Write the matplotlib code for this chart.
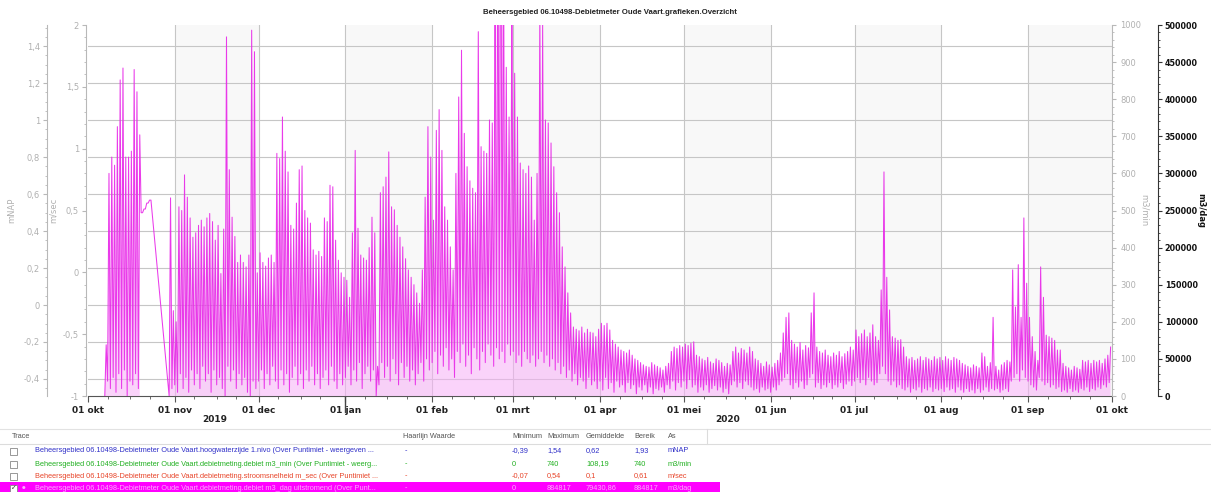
import numpy as np
import pandas as pd
import matplotlib
matplotlib.use('Agg')
import matplotlib.pyplot as plt
import matplotlib.dates as mdates
from matplotlib.ticker import FuncFormatter, MultipleLocator, FixedLocator
from matplotlib.patches import Rectangle
from matplotlib.lines import Line2D

nan = np.nan

## debiet m3_dag uitstromend: per dag de top en het dal (x 1000 m3/dag), 01 okt 2019 t/m 30 sep 2020
piek_okt = [nan, nan, nan, nan, nan, nan, 69, 300, 322, 311, 363, 426, 442, 322, 322, 330,
            440, 410, 352, 247, 252, 260, 264, nan, nan, nan, nan, nan, nan, 267, 115]
piek_nov = [100, 255, 250, 298, 268, 240, 214, 220, 230, 237, 228, 240, 246, 235, 210,
            230, 165, 225, 484, 305, 241, 215, 180, 190, 180, 174, 190, 493, 464, 166]
piek_dec = [193, 180, 175, 186, 190, 180, 327, 320, 376, 330, 302, 230, 225, 260, 305, 310,
            250, 240, 233, 197, 190, 195, 188, 240, 235, 284, 282, 210, 183, 166, 160]
piek_jan = [156, 133, 220, 331, 226, 190, 186, 183, 200, 241, 220, 40, 274, 282, 295, 329,
            255, 251, 230, 214, 201, 185, 170, 160, 150, 139, 125, 170, 268, 363, 322]
piek_feb = [237, 358, 386, 331, 255, 237, 201, 170, 300, 403, 466, 354, 309, 290, 280,
            274, 491, 336, 330, 327, 372, 368, 600, 700, 884, 650, 443, 376, 560]
piek_mrt = [435, 376, 314, 305, 300, 310, 295, 237, 300, 520, 500, 372, 368, 341, 309, 274,
            247, 201, 174, 139, 112, 93, 90, 88, 93, 85, 90, 86, 85, 80, 90]
piek_apr = [98, 95, 98, 89, 75, 70, 66, 62, 60, 58, 62, 55, 50, 48, 45,
            42, 40, 39, 45, 42, 40, 38, 35, 40, 44, 60, 66, 64, 68, 66]
piek_mei = [70, 68, 71, 73, 55, 53, 50, 48, 52, 46, 44, 50, 48, 45, 40, 44,
            42, 60, 66, 58, 64, 62, 58, 66, 60, 50, 48, 44, 40, 46, 42]
piek_jun = [39, 44, 48, 58, 85, 106, 112, 75, 70, 66, 72, 62, 68, 65, 112,
            139, 66, 60, 58, 62, 55, 53, 58, 55, 60, 53, 57, 60, 66, 62]
piek_jul = [89, 80, 84, 89, 80, 85, 96, 80, 75, 143, 302, 160, 116, 80, 78, 75,
            76, 66, 53, 50, 52, 48, 50, 53, 48, 52, 50, 48, 53, 50, 52]
piek_aug = [48, 53, 50, 48, 52, 50, 48, 44, 42, 40, 38, 42, 40, 38, 58, 53,
            40, 45, 106, 40, 35, 42, 45, 48, 46, 170, 120, 177, 106, 240, 152]
piek_sep = [106, 80, 60, 48, 174, 133, 82, 80, 78, 75, 62, 62, 44, 40, 38,
            35, 40, 38, 36, 48, 46, 48, 44, 48, 46, 48, 44, 50, 55, 66]

dal_okt = [nan, nan, nan, nan, nan, nan, 0, 20, 10, 25, 5, 30, 10, 35, 0, 20,
           15, 30, 10, 247, 252, 260, 264, nan, nan, nan, nan, nan, nan, 0, 10]
dal_nov = [15, 5, 30, 10, 25, 5, 35, 15, 30, 10, 40, 20, 30, 5, 35,
           15, 25, 10, 0, 40, 20, 35, 10, 30, 15, 25, 5, 0, 20, 10]
dal_dec = [20, 35, 10, 30, 15, 40, 20, 10, 35, 15, 30, 5, 25, 40, 15, 30,
           10, 35, 20, 40, 15, 30, 10, 25, 35, 15, 40, 20, 10, 30, 15]
dal_jan = [25, 40, 15, 35, 20, 45, 10, 30, 40, 20, 35, 0, 15, 45, 25, 40,
           20, 50, 30, 15, 45, 25, 40, 20, 35, 15, 30, 45, 20, 50, 35]
dal_feb = [45, 60, 30, 55, 40, 65, 35, 50, 25, 60, 45, 70, 40, 55, 30,
           65, 50, 35, 60, 45, 70, 55, 40, 65, 50, 60, 45, 70, 55]
dal_mrt = [60, 45, 55, 40, 60, 50, 45, 55, 40, 50, 60, 45, 55, 40, 50, 35,
           45, 30, 40, 25, 35, 20, 30, 15, 25, 20, 10, 25, 15, 20, 10]
dal_apr = [20, 8, 25, 10, 18, 5, 20, 12, 15, 5, 18, 10, 15, 3, 12,
           8, 15, 5, 12, 3, 10, 8, 12, 5, 15, 10, 20, 8, 18, 12]
dal_mei = [20, 10, 22, 12, 15, 5, 12, 8, 15, 5, 10, 14, 8, 12, 5, 10,
           3, 15, 20, 12, 18, 10, 20, 15, 12, 8, 10, 5, 12, 8, 10]
dal_jun = [5, 12, 8, 15, 20, 25, 30, 15, 10, 18, 12, 20, 10, 15, 25,
           30, 12, 18, 10, 15, 12, 18, 10, 15, 12, 18, 10, 16, 20, 14]
dal_jul = [20, 25, 18, 22, 15, 25, 20, 15, 18, 30, 40, 30, 20, 15, 20, 12,
           15, 10, 8, 12, 5, 10, 8, 12, 5, 10, 8, 12, 6, 10, 8]
dal_aug = [10, 6, 12, 8, 10, 5, 12, 8, 5, 10, 6, 8, 4, 10, 5, 8,
           12, 6, 10, 8, 10, 5, 8, 10, 6, 20, 25, 30, 20, 35, 25]
dal_sep = [20, 15, 12, 8, 25, 20, 15, 18, 12, 15, 10, 12, 6, 8, 5,
           10, 6, 8, 5, 10, 8, 12, 6, 10, 8, 12, 10, 15, 12, 18]

maanden = ['jan', 'feb', 'mrt', 'apr', 'mei', 'jun', 'jul', 'aug', 'sep', 'okt', 'nov', 'dec']

## tabel onder de grafiek
trace_namen = [
    'Beheersgebied 06.10498-Debietmeter Oude Vaart.hoogwaterzijde 1.nivo (Over Puntimiet - weergeven ...',
    'Beheersgebied 06.10498-Debietmeter Oude Vaart.debietmeting.debiet m3_min (Over Puntimiet - weerg...',
    'Beheersgebied 06.10498-Debietmeter Oude Vaart.debietmeting.stroomsnelheid m_sec (Over Puntimiet ...',
    'Beheersgebied 06.10498-Debietmeter Oude Vaart.debietmeting.debiet m3_dag uitstromend (Over Punt...',
]
minimum = ['-0,39', '0', '-0,07', '0']
maximum = ['1,54', '740', '0,54', '884817']
gemiddelde = ['0,62', '108,19', '0,1', '79430,86']
bereik = ['1,93', '740', '0,61', '884817']
eenheid = ['mNAP', 'm3/min', 'm/sec', 'm3/dag']
kleuren = ['#3030c8', '#22b022', '#e8452a', '#ffa8ff']


piek = np.array(piek_okt + piek_nov + piek_dec + piek_jan + piek_feb + piek_mrt +
                piek_apr + piek_mei + piek_jun + piek_jul + piek_aug + piek_sep) * 1000
dal = np.array(dal_okt + dal_nov + dal_dec + dal_jan + dal_feb + dal_mrt +
               dal_apr + dal_mei + dal_jun + dal_jul + dal_aug + dal_sep) * 1000

base = mdates.date2num(pd.Timestamp('2019-10-01'))
dagen = np.arange(len(piek))
x = np.empty(2 * len(piek))
y = np.empty(2 * len(piek))
x[0::2] = base + dagen
x[1::2] = base + dagen + 0.5
y[0::2] = dal
y[1::2] = piek
ok = ~np.isnan(y)
# geen vulling waar de meting ontbreekt (vlakke verbindingslijn)
getij = np.repeat(dal != piek, 2)[ok]

W, H = 1211, 492
grijs = '#b8b8b8'
grijs_txt = '#b0b0b0'

fig = plt.figure(figsize=(W / 100, H / 100), dpi=100)
ax = fig.add_axes([88 / W, 1 - 396 / H, 1024 / W, 371 / H])

maand_start = mdates.date2num(pd.date_range('2019-10-01', '2020-10-01', freq='MS'))
for i in [1, 3, 5, 7, 9, 11]:
    ax.axvspan(maand_start[i], maand_start[i + 1], color='#f8f8f8', zorder=0, lw=0)
for m in maand_start[1:-1]:
    ax.axvline(m, color='#c6c6c6', lw=0.8, zorder=0.5)

ax.set_xlim(base, base + 366)
ax.set_ylim(-0.492, 1.514)
ax.yaxis.set_major_locator(FixedLocator([-0.4, -0.2, 0, 0.2, 0.4, 0.6, 0.8, 1.0, 1.2, 1.4]))
ax.yaxis.set_minor_locator(MultipleLocator(0.05))
komma = FuncFormatter(lambda v, p: ('%g' % round(v, 2)).replace('.', ','))
ax.yaxis.set_major_formatter(komma)
ax.yaxis.grid(True, color='#c6c6c6', lw=0.8)
ax.set_axisbelow(True)
ax.spines['top'].set_visible(False)
ax.spines['right'].set_visible(False)
ax.spines['left'].set_position(('outward', 29.5))
ax.spines['left'].set_color(grijs)
ax.spines['bottom'].set_color('#555555')
ax.tick_params(axis='y', which='both', colors=grijs, labelcolor=grijs_txt, labelsize=6, length=3, pad=2)
ax.tick_params(axis='y', which='minor', length=1.5)
ax.set_ylabel('mNAP', color=grijs_txt, fontsize=6)
ax.yaxis.set_label_coords(-0.07, 0.5)

ax.xaxis.set_major_locator(mdates.MonthLocator())
ax.xaxis.set_minor_locator(mdates.DayLocator(bymonthday=[8, 16, 23]))
ax.xaxis.set_major_formatter(FuncFormatter(
    lambda v, p: '%02d %s' % (mdates.num2date(v).day, maanden[mdates.num2date(v).month - 1])))
ax.tick_params(axis='x', which='major', colors='#555555', labelcolor='#222222', labelsize=6.5,
               length=4, pad=3)
ax.tick_params(axis='x', which='minor', colors='#555555', length=2.5)
for lab in ax.get_xticklabels():
    lab.set_fontweight('bold')

# m/sec as links
ax_ms = ax.twinx()
ax_ms.set_ylim(-1, 2)
ax_ms.yaxis.tick_left()
ax_ms.yaxis.set_label_position('left')
for s in ['top', 'bottom', 'right']:
    ax_ms.spines[s].set_visible(False)
ax_ms.spines['left'].set_position(('outward', 1.5))
ax_ms.spines['left'].set_color(grijs)
ax_ms.yaxis.set_major_locator(MultipleLocator(0.5))
ax_ms.yaxis.set_minor_locator(MultipleLocator(0.1))
ax_ms.yaxis.set_major_formatter(komma)
ax_ms.tick_params(axis='y', which='both', colors=grijs, labelcolor=grijs_txt, labelsize=6, length=3, pad=2)
ax_ms.tick_params(axis='y', which='minor', length=1.5)
ax_ms.set_ylabel('m/sec', color=grijs_txt, fontsize=6)
ax_ms.yaxis.set_label_coords(-0.03, 0.5)

# m3/min as rechts
ax_min = ax.twinx()
ax_min.set_ylim(0, 1000)
for s in ['top', 'bottom', 'left']:
    ax_min.spines[s].set_visible(False)
ax_min.spines['right'].set_color(grijs)
ax_min.yaxis.set_major_locator(MultipleLocator(100))
ax_min.yaxis.set_minor_locator(MultipleLocator(20))
ax_min.tick_params(axis='y', which='both', colors=grijs, labelcolor=grijs_txt, labelsize=6, length=3, pad=3)
ax_min.tick_params(axis='y', which='minor', length=1.5)
ax_min.set_ylabel('m3/min', color=grijs_txt, fontsize=6, rotation=270)
ax_min.yaxis.set_label_coords(1.036, 0.5)

# m3/dag as rechts (actief)
ax_dag = ax.twinx()
ax_dag.set_ylim(0, 500000)
for s in ['top', 'bottom', 'left']:
    ax_dag.spines[s].set_visible(False)
ax_dag.spines['right'].set_position(('outward', 33))
ax_dag.spines['right'].set_color('#333333')
ax_dag.yaxis.set_major_locator(MultipleLocator(50000))
ax_dag.yaxis.set_minor_locator(MultipleLocator(10000))
ax_dag.tick_params(axis='y', which='both', colors='#333333', labelcolor='#111111', labelsize=5.8, length=3, pad=2)
ax_dag.tick_params(axis='y', which='minor', length=1.5)
for lab in ax_dag.get_yticklabels():
    lab.set_fontweight('bold')
ax_dag.set_ylabel('m3/dag', color='#111111', fontsize=6, fontweight='bold', rotation=270)
ax_dag.yaxis.set_label_coords(1.091, 0.5)

ax_dag.fill_between(x[ok], 0, y[ok], where=getij, color='#f7b0f7', lw=0, alpha=0.55)
ax_dag.plot(x[ok], y[ok], color='#e826e8', lw=0.75, alpha=0.9)

fig.text(0.504, 1 - 13 / H, 'Beheersgebied 06.10498-Debietmeter Oude Vaart.grafieken.Overzicht',
         ha='center', va='center', fontsize=5.6, fontweight='bold', color='#222222',
         family='Liberation Sans')

fig.text(215 / W, 1 - 420 / H, '2019', ha='center', va='center', fontsize=6.5, fontweight='bold', color='#222222')
fig.text(728 / W, 1 - 420 / H, '2020', ha='center', va='center', fontsize=6.5, fontweight='bold', color='#222222')
fig.add_artist(Line2D([345 / W, 345 / W], [1 - 397 / H, 1 - 412 / H], color='#444444', lw=1))

## tabel
fig.add_artist(Line2D([0, 1], [1 - 429 / H, 1 - 429 / H], color='#e2e2e2', lw=0.8))
fig.add_artist(Line2D([0, 1], [1 - 444 / H, 1 - 444 / H], color='#dcdcdc', lw=0.8))
fig.add_artist(Line2D([707 / W, 707 / W], [1 - 429 / H, 1 - 444 / H], color='#dcdcdc', lw=0.8))
kol_x = [403, 512, 547, 586, 634, 668]
kop = ['Haarlijn Waarde', 'Minimum', 'Maximum', 'Gemiddelde', 'Bereik', 'As']
tabel_font = dict(fontsize=5.3, family='Liberation Sans', va='center')
fig.text(12 / W, 1 - 437 / H, 'Trace', color='#555555', **tabel_font)
for k, t in zip(kol_x, kop):
    fig.text(k / W, 1 - 437 / H, t, color='#555555', **tabel_font)

rij_y = [451, 464, 476, 488]
fig.add_artist(Rectangle((0, 0), 720 / W, 1 - 482 / H, color='#ff00ff', transform=fig.transFigure, lw=0))
for i in range(4):
    yy = 1 - rij_y[i] / H
    fig.add_artist(Rectangle((10 / W, yy - 3.5 / H), 7 / W, 7 / H, transform=fig.transFigure,
                             facecolor='white', edgecolor='#888888', lw=0.6))
    fig.text(35 / W, yy, trace_namen[i], color=kleuren[i], **tabel_font)
    waarden = ['-', minimum[i], maximum[i], gemiddelde[i], bereik[i], eenheid[i]]
    for k, t in zip([405] + kol_x[1:], waarden):
        fig.text(k / W, yy, t, color=kleuren[i], **tabel_font)
fig.text(13.5 / W, 1 - 488 / H, '\u2713', ha='center', va='center', fontsize=5, color='#333333')
fig.text(24 / W, 1 - 488 / H, '\u25cf', ha='center', va='center', fontsize=3, color='#ffa8ff')

fig.savefig('out.png', dpi=100)
